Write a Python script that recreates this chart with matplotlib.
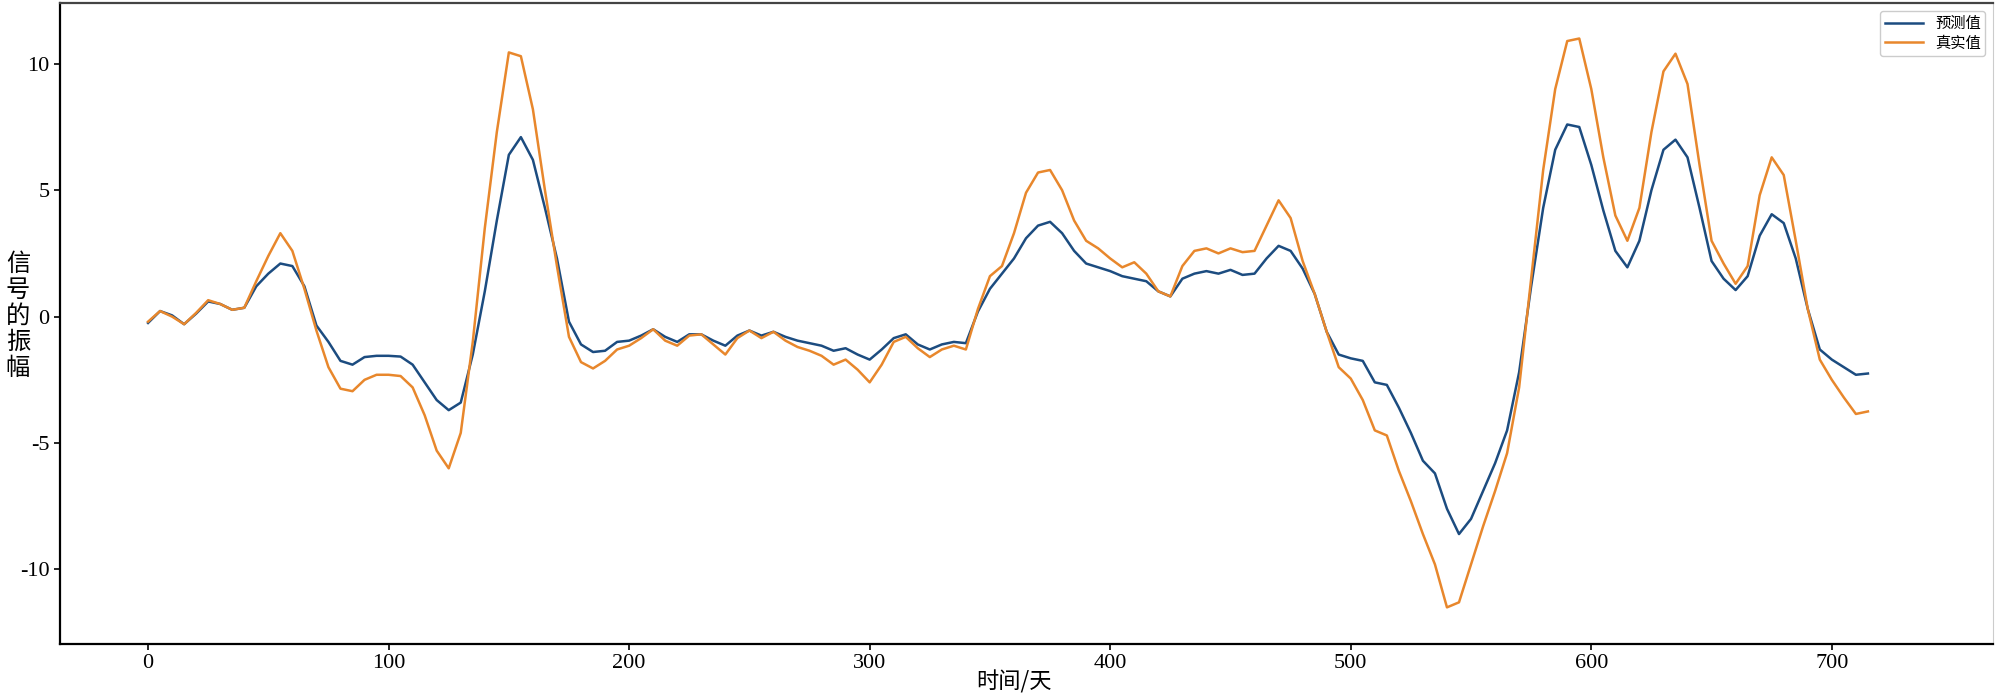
import numpy as np
import matplotlib
matplotlib.use('Agg')
import matplotlib.pyplot as plt

plt.rcParams['font.family'] = ['Liberation Serif', 'Noto Sans CJK SC', 'DejaVu Sans']
plt.rcParams['axes.unicode_minus'] = False

days = np.arange(0, 720, 5)

pred = [
    # 0 - 190
    -0.25, 0.22, 0.05, -0.3, 0.12, 0.6, 0.5, 0.27, 0.35, 1.2,
    1.7, 2.1, 2.0, 1.2, -0.35, -1.0, -1.75, -1.9, -1.6, -1.55,
    -1.55, -1.58, -1.9, -2.6, -3.3, -3.7, -3.4, -1.5, 1.0, 3.8,
    6.4, 7.1, 6.2, 4.3, 2.3, -0.2, -1.1, -1.4, -1.35,
    # 195 - 485
    -1.0, -0.95, -0.75, -0.5, -0.8, -1.0, -0.7, -0.7, -0.95, -1.15,
    -0.75, -0.55, -0.75, -0.6, -0.8, -0.95, -1.05, -1.15, -1.35, -1.25,
    -1.5, -1.7, -1.3, -0.85, -0.7, -1.1, -1.3, -1.1, -1.0, -1.05,
    0.2, 1.1, 1.7, 2.3, 3.1, 3.6, 3.75, 3.3, 2.6, 2.1,
    1.95, 1.8, 1.6, 1.5, 1.4, 1.0, 0.8, 1.5, 1.7, 1.8,
    1.7, 1.85, 1.65, 1.7, 2.3, 2.8, 2.6, 1.9, 0.9,
    # 490 - 715
    -0.6, -1.5, -1.65, -1.75, -2.6, -2.7, -3.6, -4.6, -5.7, -6.2,
    -7.6, -8.6, -8.0, -6.9, -5.8, -4.5, -2.2, 1.2, 4.3, 6.6,
    7.6, 7.5, 6.0, 4.2, 2.6, 1.95, 3.0, 5.0, 6.6, 7.0,
    6.3, 4.3, 2.2, 1.5, 1.05, 1.6, 3.2, 4.05, 3.7, 2.3,
    0.3, -1.3, -1.7, -2.0, -2.3, -2.25,
]

true = [
    # 0 - 190
    -0.2, 0.22, 0.0, -0.3, 0.15, 0.65, 0.5, 0.27, 0.35, 1.4,
    2.4, 3.3, 2.6, 1.1, -0.55, -2.0, -2.85, -2.95, -2.5, -2.3,
    -2.3, -2.35, -2.8, -3.9, -5.3, -6.0, -4.6, -1.0, 3.5, 7.3,
    10.45, 10.3, 8.2, 5.0, 2.0, -0.8, -1.8, -2.05, -1.75,
    # 195 - 485
    -1.3, -1.15, -0.85, -0.5, -0.95, -1.15, -0.75, -0.7, -1.1, -1.5,
    -0.85, -0.55, -0.85, -0.6, -0.95, -1.2, -1.35, -1.55, -1.9, -1.7,
    -2.1, -2.6, -1.9, -1.0, -0.8, -1.25, -1.6, -1.3, -1.15, -1.3,
    0.3, 1.6, 2.0, 3.3, 4.9, 5.7, 5.8, 5.0, 3.8, 3.0,
    2.7, 2.3, 1.95, 2.15, 1.7, 1.0, 0.8, 2.0, 2.6, 2.7,
    2.5, 2.7, 2.55, 2.6, 3.6, 4.6, 3.9, 2.2, 0.9,
    # 490 - 715
    -0.6, -2.0, -2.45, -3.3, -4.5, -4.7, -6.1, -7.3, -8.6, -9.8,
    -11.5, -11.3, -9.8, -8.3, -6.9, -5.4, -2.8, 1.5, 5.8, 9.0,
    10.9, 11.0, 9.0, 6.3, 4.0, 3.0, 4.3, 7.3, 9.7, 10.4,
    9.2, 6.0, 3.0, 2.1, 1.3, 2.0, 4.8, 6.3, 5.6, 3.0,
    0.3, -1.7, -2.5, -3.2, -3.85, -3.75,
]

fig = plt.figure(figsize=(20, 6.94), dpi=100)
ax = fig.add_axes([0.03, 0.072, 0.9665, 0.9235])

ax.plot(days, pred, color='#1c4c80', lw=1.8, label='预测值')
ax.plot(days, true, color='#e8872c', lw=1.8, label='真实值')

ax.set_xlim(-36.6, 767)
ax.set_ylim(-12.95, 12.4)
ax.set_xticks([0, 100, 200, 300, 400, 500, 600, 700])
ax.set_yticks([-10, -5, 0, 5, 10])
ax.tick_params(axis='both', labelsize=16, length=4, width=1.2)

for s in ['left', 'bottom', 'top']:
    ax.spines[s].set_linewidth(1.6)
ax.spines['right'].set_color('#cccccc')
ax.spines['top'].set_color('#444444')

ax.legend(loc='upper right', handlelength=2.5,
          prop={'family': ['Noto Sans CJK SC'], 'size': 11},
          framealpha=1, edgecolor='#cccccc', borderpad=0.3, labelspacing=0.15)

fig.text(0.009, 0.545, '信\n号\n的\n振\n幅', ha='center', va='center',
         fontsize=17.5, linespacing=1.0, family=['Noto Sans CJK SC'])
fig.text(0.507, 0.018, '时间/天', ha='center', va='center',
         fontsize=16, family=['Noto Sans CJK SC'])

fig.savefig('out.png', dpi=100)
